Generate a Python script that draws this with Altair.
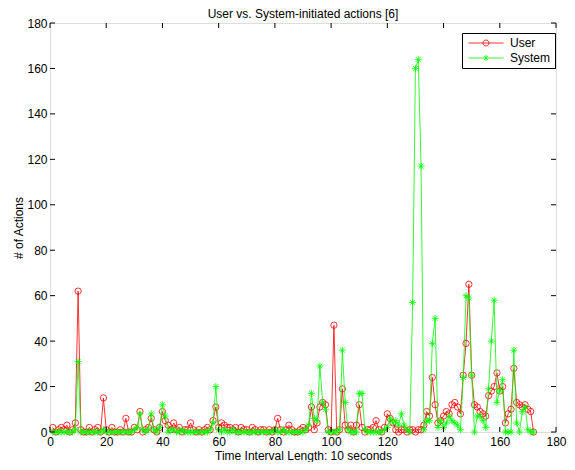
import altair as alt
import pandas as pd

# ---- data ----
t = list(range(1, 173))
user = [
    2, 0, 1, 2, 1, 3, 0, 1, 4, 62,
    1, 0, 0, 2, 0, 1, 2, 0, 15, 1,
    0, 2, 0, 0, 1, 0, 6, 0, 0, 2,
    1, 9, 0, 1, 2, 6, 1, 0, 2, 9,
    5, 3, 1, 4, 1, 2, 0, 1, 1, 4,
    1, 0, 1, 0, 1, 2, 1, 5, 11, 2,
    4, 3, 2, 2, 1, 2, 0, 2, 1, 1,
    0, 2, 1, 0, 1, 1, 0, 1, 0, 1,
    6, 1, 0, 1, 3, 1, 0, 0, 1, 2,
    1, 2, 11, 1, 4, 11, 13, 12, 1, 0,
    47, 0, 1, 19, 3, 1, 3, 0, 3, 12,
    2, 0, 1, 1, 2, 5, 1, 0, 2, 8,
    6, 4, 1, 0, 1, 1, 0, 1, 1, 0,
    1, 1, 3, 9, 7, 24, 12, 4, 5, 7,
    9, 8, 12, 13, 11, 8, 25, 39, 65, 25,
    12, 11, 9, 8, 7, 16, 18, 20, 26, 18,
    20, 4, 8, 10, 28, 13, 12, 11, 12, 10,
    9, 0,
]
system = [
    0, 0, 0, 0, 0, 0, 0, 0, 1, 31,
    0, 0, 0, 0, 0, 0, 0, 0, 1, 0,
    0, 0, 0, 0, 0, 0, 0, 0, 0, 1,
    2, 8, 1, 0, 1, 8, 1, 0, 2, 12,
    7, 0, 1, 1, 0, 0, 1, 0, 0, 0,
    0, 0, 0, 0, 0, 0, 1, 4, 20, 1,
    0, 1, 0, 0, 1, 0, 0, 0, 0, 0,
    0, 0, 0, 0, 0, 0, 0, 0, 0, 1,
    0, 0, 1, 0, 0, 0, 0, 0, 0, 0,
    1, 3, 17, 6, 5, 29, 13, 10, 0, 0,
    0, 0, 1, 36, 13, 1, 0, 0, 0, 17,
    17, 1, 0, 0, 0, 0, 0, 0, 1, 2,
    6, 4, 5, 3, 8, 3, 1, 0, 57, 160,
    164, 117, 1, 5, 5, 39, 50, 2, 5, 2,
    4, 7, 5, 4, 3, 1, 24, 60, 59, 25,
    0, 7, 7, 5, 2, 19, 40, 58, 13, 18,
    23, 0, 0, 0, 36, 4, 0, 9, 11, 1,
    0, 0,
]
series_names = ["User", "System"]
series_colors = ["#ff0000", "#00ff00"]
x_ticks = list(range(0, 181, 20))
y_ticks = list(range(0, 181, 20))

df = pd.DataFrame({
    "t": t * 2,
    "series": ["User"] * len(user) + ["System"] * len(system),
    "value": user + system,
})
tx = pd.DataFrame({"v": x_ticks})
ty = pd.DataFrame({"v": y_ticks})

W, H = 506, 409
FONT = "Liberation Sans"
TL = 5  # inward tick length

xscale = alt.Scale(domain=[0, 180], nice=False, zero=False)
yscale = alt.Scale(domain=[0, 180], nice=False)

xaxis = alt.Axis(values=x_ticks, title="Time Interval Length: 10 seconds",
                 ticks=False, tickSize=0, domain=False, grid=False,
                 labelPadding=4, labelFlush=False, labelOverlap=False,
                 labelFont=FONT, labelFontSize=12, labelColor="black",
                 titleFont=FONT, titleFontSize=12, titleFontWeight="normal",
                 titleColor="black", titlePadding=3)
yaxis = alt.Axis(values=y_ticks, title="# of Actions",
                 ticks=False, tickSize=0, domain=False, grid=False,
                 labelPadding=3, labelFlush=False, labelOverlap=False,
                 labelFont=FONT, labelFontSize=12, labelColor="black",
                 titleFont=FONT, titleFontSize=12, titleFontWeight="normal",
                 titleColor="black", titlePadding=1)

circle_path = "circle"
star_path = "M-1,0H1M0,-1V1M-0.7,-0.7L0.7,0.7M-0.7,0.7L0.7,-0.7"
user_leg = "M-1,0H9M3.14,0A0.86,0.86,0,1,0,4.86,0A0.86,0.86,0,1,0,3.14,0"
sys_leg = "M-1,0H9M4,-0.86V0.86M3.39,-0.61L4.61,0.61M3.39,0.61L4.61,-0.61"

X = alt.X("t:Q", scale=xscale, axis=xaxis)
Y = alt.Y("value:Q", scale=yscale, axis=yaxis)

base = alt.Chart(df)
user_line = base.transform_filter(alt.datum.series == "User").mark_line(
    color=series_colors[0], strokeWidth=0.8).encode(x=X, y=Y)
user_pts = base.transform_filter(alt.datum.series == "User").mark_point(
    shape=circle_path, filled=False, color=series_colors[0], size=40,
    strokeWidth=0.8, opacity=1).encode(x=X, y=Y)
sys_line = base.transform_filter(alt.datum.series == "System").mark_line(
    color=series_colors[1], strokeWidth=0.8).encode(x=X, y=Y)
sys_pts = base.transform_filter(alt.datum.series == "System").mark_point(
    shape=star_path, filled=False, color=series_colors[1], size=49,
    strokeWidth=0.8, opacity=1).encode(x=X, y=Y)

leg = alt.Legend(title=None, orient="none", legendX=W - 94, legendY=10,
                 symbolSize=49, symbolOpacity=1, symbolStrokeWidth=0.8,
                 labelOffset=32, labelFont=FONT, labelFontSize=12,
                 labelColor="black", strokeColor="black", fillColor="white",
                 padding=4, rowPadding=3, cornerRadius=0)
legend_layer = base.mark_point(filled=False, opacity=0).encode(
    x=X, y=Y,
    color=alt.Color("series:N", scale=alt.Scale(domain=series_names, range=series_colors), legend=leg),
    shape=alt.Shape("series:N", scale=alt.Scale(domain=series_names, range=[user_leg, sys_leg]), legend=leg),
)

tick_x = alt.X("v:Q", scale=xscale, axis=xaxis)
tick_y = alt.Y("v:Q", scale=yscale, axis=yaxis)
t_bottom = alt.Chart(tx).mark_rule(color="black", strokeWidth=1).encode(
    x=tick_x, y=alt.value(H), y2=alt.value(H - TL))
t_top = alt.Chart(tx).mark_rule(color="black", strokeWidth=1).encode(
    x=tick_x, y=alt.value(0), y2=alt.value(TL))
t_left = alt.Chart(ty).mark_rule(color="black", strokeWidth=1).encode(
    y=tick_y, x=alt.value(0), x2=alt.value(TL))
t_right = alt.Chart(ty).mark_rule(color="black", strokeWidth=1).encode(
    y=tick_y, x=alt.value(W), x2=alt.value(W - TL))

chart = alt.layer(
    user_line, user_pts, sys_line, sys_pts, legend_layer,
    t_bottom, t_top, t_left, t_right,
).properties(
    width=W, height=H,
    title=alt.TitleParams("User vs. System-initiated actions [6]", font=FONT,
                          fontSize=12, fontWeight="normal", color="black",
                          anchor="middle", offset=-4),
    padding={"left": 42, "top": 15, "right": 11, "bottom": 30},
    autosize=alt.AutoSizeParams(type="none"),
).configure_view(stroke="black", strokeWidth=1).configure(background="white")

chart.save("out.html", embed_options={"renderer": "svg", "actions": False})
